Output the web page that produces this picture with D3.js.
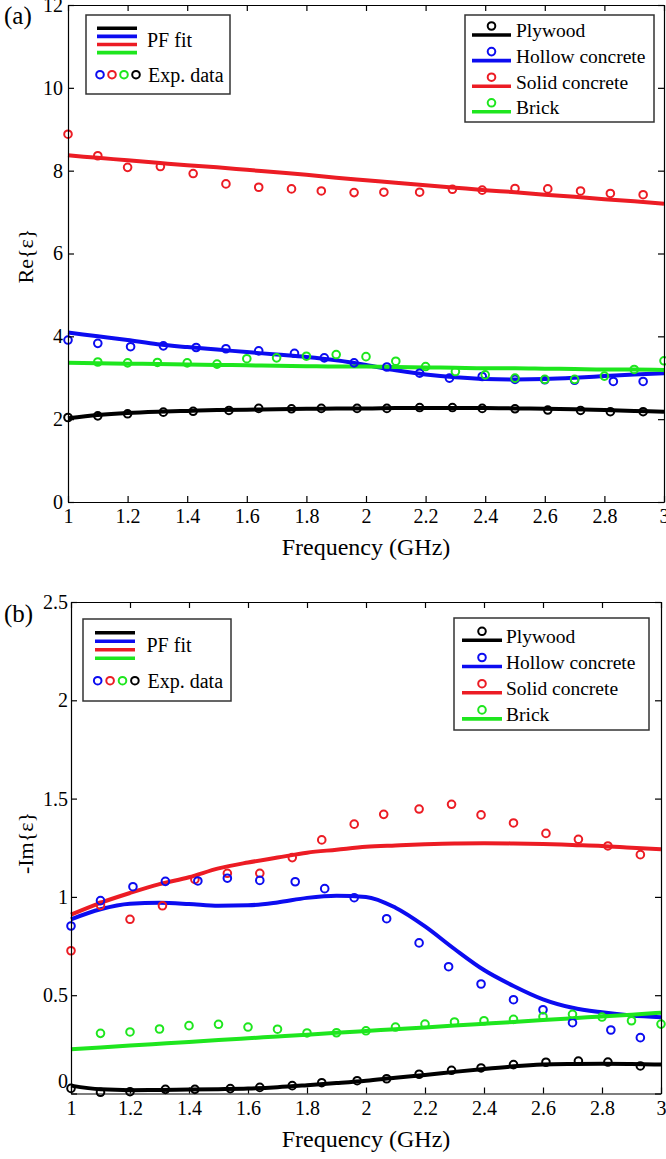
<!DOCTYPE html>
<html>
  <head>
    <meta charset="utf-8" />
    <script src="https://d3js.org/d3.v7.min.js"></script>
    <title>Permittivity of building materials</title>
    <style>
      body { margin: 0; background: #fff; }
      text { font-family: "Liberation Serif", "Times New Roman", serif; fill: #000; }
      .axis path, .axis line { stroke: #000; stroke-width: 1.2px; }
      .axis text { font-family: "Liberation Serif", serif; font-size: 20px; }
      .fit { fill: none; stroke-width: 4px; stroke-linejoin: round; }
      .pt { fill: none; stroke-width: 2px; }
      .legbox { fill: #fff; stroke: #333; stroke-width: 1.5px; }
    </style>
  </head>
  <body>
    <svg id="chart" width="666" height="1159"></svg>
    <script>

      // materials and colours
      var materials = ["Plywood", "Hollow concrete", "Solid concrete", "Brick"];
      var colors = ["#000000", "#0c0cf0", "#ec1c24", "#1ee61e"];

      var xTicks = [1, 1.2, 1.4, 1.6, 1.8, 2, 2.2, 2.4, 2.6, 2.8, 3];
      var reTicks = [0, 2, 4, 6, 8, 10, 12];
      var imTicks = [0, 0.5, 1, 1.5, 2, 2.5];

      // measured frequencies (GHz)
      var freqPly = [1.00, 1.10, 1.20, 1.32, 1.42, 1.54, 1.64, 1.75, 1.85, 1.97, 2.07, 2.18, 2.29, 2.39, 2.50, 2.61, 2.72, 2.82, 2.93];
      var freqHollow = [1.00, 1.10, 1.21, 1.32, 1.43, 1.53, 1.64, 1.76, 1.86, 1.96, 2.07, 2.18, 2.28, 2.39, 2.50, 2.60, 2.70, 2.83, 2.93];
      var freqSolid = [1.00, 1.10, 1.20, 1.31, 1.42, 1.53, 1.64, 1.75, 1.85, 1.96, 2.06, 2.18, 2.29, 2.39, 2.50, 2.61, 2.72, 2.82, 2.93];
      var freqBrick = [1.1, 1.2, 1.3, 1.4, 1.5, 1.6, 1.7, 1.8, 1.9, 2.0, 2.1, 2.2, 2.3, 2.4, 2.5, 2.6, 2.7, 2.8, 2.9, 3.0];

      // Re{eps} experimental data
      var rePly = [2.04, 2.08, 2.13, 2.17, 2.19, 2.21, 2.26, 2.25, 2.26, 2.26, 2.26, 2.28, 2.28, 2.26, 2.25, 2.22, 2.21, 2.18, 2.18];
      var reHollow = [3.91, 3.83, 3.75, 3.77, 3.73, 3.70, 3.65, 3.59, 3.48, 3.36, 3.26, 3.11, 2.99, 3.03, 2.96, 2.95, 2.94, 2.91, 2.91];
      var reSolid = [8.88, 8.36, 8.08, 8.10, 7.93, 7.68, 7.60, 7.56, 7.51, 7.47, 7.48, 7.48, 7.55, 7.53, 7.57, 7.56, 7.51, 7.45, 7.42];
      var reBrick = [3.38, 3.36, 3.37, 3.36, 3.33, 3.46, 3.48, 3.52, 3.56, 3.51, 3.40, 3.27, 3.15, 3.07, 2.99, 2.96, 2.96, 3.04, 3.20, 3.41];

      // -Im{eps} experimental data
      var imPly = [0.026, 0.006, 0.009, 0.021, 0.021, 0.025, 0.031, 0.040, 0.055, 0.065, 0.075, 0.098, 0.118, 0.130, 0.147, 0.159, 0.165, 0.160, 0.140];
      var imHollow = [0.852, 0.981, 1.052, 1.079, 1.081, 1.095, 1.084, 1.077, 1.042, 0.996, 0.889, 0.766, 0.645, 0.557, 0.477, 0.426, 0.360, 0.323, 0.284];
      var imSolid = [0.726, 0.957, 0.886, 0.955, 1.089, 1.120, 1.120, 1.200, 1.290, 1.370, 1.420, 1.447, 1.471, 1.417, 1.376, 1.323, 1.293, 1.259, 1.215];
      var imBrick = [0.306, 0.313, 0.328, 0.345, 0.352, 0.338, 0.327, 0.308, 0.309, 0.319, 0.338, 0.353, 0.364, 0.370, 0.377, 0.391, 0.403, 0.389, 0.370, 0.353];

      // PF fit curves
      var fitFreq = [1.0, 1.1, 1.2, 1.3, 1.4, 1.5, 1.6, 1.7, 1.8, 1.9, 2.0, 2.1, 2.2, 2.3, 2.4, 2.5, 2.6, 2.7, 2.8, 2.9, 3.0];
      var reFitPly = [2.02, 2.10, 2.15, 2.18, 2.20, 2.22, 2.23, 2.24, 2.25, 2.26, 2.26, 2.27, 2.27, 2.27, 2.27, 2.26, 2.25, 2.24, 2.22, 2.20, 2.18];
      var reFitHollow = [4.09, 4.00, 3.91, 3.81, 3.74, 3.68, 3.62, 3.56, 3.50, 3.42, 3.31, 3.18, 3.08, 3.01, 2.97, 2.96, 2.97, 3.00, 3.04, 3.08, 3.11];
      var reFitSolid = [8.37, 8.31, 8.25, 8.19, 8.13, 8.08, 8.02, 7.96, 7.90, 7.83, 7.77, 7.71, 7.65, 7.59, 7.53, 7.48, 7.42, 7.37, 7.31, 7.26, 7.20];
      var reFitBrick = [3.36, 3.35, 3.34, 3.33, 3.32, 3.31, 3.30, 3.29, 3.28, 3.27, 3.27, 3.26, 3.25, 3.24, 3.23, 3.23, 3.22, 3.21, 3.20, 3.20, 3.19];
      var imFitPly = [0.040, 0.021, 0.017, 0.018, 0.020, 0.022, 0.025, 0.032, 0.042, 0.053, 0.065, 0.080, 0.094, 0.110, 0.125, 0.138, 0.147, 0.150, 0.151, 0.150, 0.147];
      var imFitHollow = [0.886, 0.937, 0.965, 0.970, 0.964, 0.955, 0.957, 0.972, 0.995, 1.006, 1.000, 0.945, 0.850, 0.735, 0.628, 0.547, 0.479, 0.436, 0.413, 0.397, 0.388];
      var imFitSolid = [0.910, 0.970, 1.020, 1.065, 1.100, 1.145, 1.175, 1.200, 1.225, 1.240, 1.255, 1.262, 1.268, 1.272, 1.273, 1.272, 1.269, 1.264, 1.259, 1.250, 1.242];
      var imFitBrick = [0.225, 0.234, 0.244, 0.253, 0.262, 0.272, 0.281, 0.290, 0.299, 0.309, 0.318, 0.327, 0.336, 0.346, 0.355, 0.364, 0.374, 0.383, 0.392, 0.401, 0.411];

      var svg = d3.select("#chart");

      function zip(xs, ys) {
        return xs.map(function(x, i) { return [x, ys[i]]; });
      }

      function drawPanel(p) {
        var x = d3.scaleLinear().domain([1, 3]).range([p.left, p.right]);
        var y = d3.scaleLinear().domain(p.yDomain).range([p.bottom, p.top]);
        var g = svg.append("g");

        // curves first, markers on top
        var line = d3.line()
          .x(function(d) { return x(d[0]); })
          .y(function(d) { return y(d[1]); })
          .curve(d3.curveMonotoneX);

        p.fits.forEach(function(f, i) {
          g.append("path")
            .attr("class", "fit")
            .attr("stroke", colors[i])
            .attr("d", line(zip(fitFreq, f)));
        });

        // draw order of markers: solid, hollow, brick, plywood
        [2, 1, 3, 0].forEach(function(i) {
          g.selectAll(null)
            .data(zip(p.freqs[i], p.exp[i]))
            .enter().append("circle")
            .attr("class", "pt")
            .attr("stroke", colors[i])
            .attr("cx", function(d) { return x(d[0]); })
            .attr("cy", function(d) { return y(d[1]); })
            .attr("r", 3.8);
        });

        // box axes with inward ticks
        g.append("g").attr("class", "axis")
          .attr("transform", "translate(0," + p.bottom + ")")
          .call(d3.axisBottom(x).tickValues(xTicks).tickSizeInner(-6).tickSizeOuter(0)
            .tickPadding(7).tickFormat(function(d) { return String(d); }));
        g.append("g").attr("class", "axis")
          .attr("transform", "translate(0," + p.top + ")")
          .call(d3.axisTop(x).tickValues(xTicks).tickSizeInner(-6).tickSizeOuter(0).tickFormat(""));
        var yl = g.append("g").attr("class", "axis")
          .attr("transform", "translate(" + p.left + ",0)")
          .call(d3.axisLeft(y).tickValues(p.yTicks).tickSizeInner(-6).tickSizeOuter(0)
            .tickPadding(p.yPad).tickFormat(function(d) { return String(d); }));
        if (p.zeroShift) {
          yl.selectAll(".tick text").filter(function(d) { return d === 0; })
            .attr("y", -p.zeroShift);
        }
        g.append("g").attr("class", "axis")
          .attr("transform", "translate(" + p.right + ",0)")
          .call(d3.axisRight(y).tickValues(p.yTicks).tickSizeInner(-6).tickSizeOuter(0).tickFormat(""));

        g.append("text")
          .attr("x", (p.left + p.right) / 2)
          .attr("y", p.bottom + 53)
          .attr("text-anchor", "middle")
          .attr("font-size", 24)
          .text("Frequency (GHz)");

        g.append("text")
          .attr("transform", "translate(33," + p.yLabelY + ") rotate(-90)")
          .attr("text-anchor", "middle")
          .attr("font-size", 22)
          .text(p.yLabel);

        g.append("text")
          .attr("x", 4)
          .attr("y", p.tagY)
          .attr("font-size", 25)
          .text(p.tag);

        // left legend: PF fit / Exp. data
        var L = p.legL;
        g.append("rect").attr("class", "legbox")
          .attr("x", L.x0).attr("y", L.y0).attr("width", L.x1 - L.x0).attr("height", L.y1 - L.y0);
        colors.forEach(function(c, i) {
          g.append("line")
            .attr("x1", L.lx0).attr("x2", L.lx1)
            .attr("y1", L.ly + i * L.lstep).attr("y2", L.ly + i * L.lstep)
            .attr("stroke", c).attr("stroke-width", 3.6);
        });
        g.append("text").attr("x", L.tx).attr("y", L.ly + 1.5 * L.lstep)
          .attr("dy", "0.35em").attr("font-size", 20).text("PF fit");
        [1, 2, 3, 0].forEach(function(ci, k) {
          g.append("circle").attr("class", "pt")
            .attr("stroke", colors[ci])
            .attr("cx", L.cx + k * L.cstep).attr("cy", L.cy).attr("r", 3.8);
        });
        g.append("text").attr("x", L.tx + 1).attr("y", L.cy)
          .attr("dy", "0.35em").attr("font-size", 20).text("Exp. data");

        // right legend: materials
        var R = p.legR;
        g.append("rect").attr("class", "legbox")
          .attr("x", R.x0).attr("y", R.y0).attr("width", R.x1 - R.x0).attr("height", R.y1 - R.y0);
        materials.forEach(function(m, i) {
          var yy = R.y + i * R.step;
          g.append("line")
            .attr("x1", R.lx0).attr("x2", R.lx1)
            .attr("y1", yy + 9).attr("y2", yy + 9)
            .attr("stroke", colors[i]).attr("stroke-width", 3.6);
          g.append("circle").attr("class", "pt")
            .attr("stroke", colors[i])
            .attr("cx", (R.lx0 + R.lx1) / 2).attr("cy", yy).attr("r", 3.8);
          g.append("text").attr("x", R.tx).attr("y", yy + 4.5)
            .attr("dy", "0.35em").attr("font-size", 19.5).text(m);
        });
      }

      drawPanel({
        left: 68, right: 664, top: 5, bottom: 502,
        yDomain: [0, 12], yTicks: reTicks, yPad: 5,
        yLabel: "Re{\u03b5}", yLabelY: 256, tag: "(a)", tagY: 24,
        freqs: [freqPly, freqHollow, freqSolid, freqBrick],
        exp: [rePly, reHollow, reSolid, reBrick],
        fits: [reFitPly, reFitHollow, reFitSolid, reFitBrick],
        legL: { x0: 86, x1: 230, y0: 15, y1: 94, lx0: 97, lx1: 137, ly: 28.3, lstep: 8.1,
                tx: 147, cx: 100, cstep: 12, cy: 74.7 },
        legR: { x0: 465, x1: 654, y0: 15, y1: 122, lx0: 472, lx1: 511, tx: 516, y: 26, step: 25.6 }
      });

      drawPanel({
        left: 71, right: 661, top: 602, bottom: 1093.5,
        yDomain: [0, 2.5], yTicks: imTicks, yPad: 3, zeroShift: 12,
        yLabel: "-Im{\u03b5}", yLabelY: 843, tag: "(b)", tagY: 622,
        freqs: [freqPly, freqHollow, freqSolid, freqBrick],
        exp: [imPly, imHollow, imSolid, imBrick],
        fits: [imFitPly, imFitHollow, imFitSolid, imFitBrick],
        legL: { x0: 83, x1: 231, y0: 619, y1: 701, lx0: 95, lx1: 135, ly: 632.7, lstep: 8.5,
                tx: 146.5, cx: 97.7, cstep: 12.4, cy: 680.7 },
        legR: { x0: 454, x1: 649, y0: 618, y1: 730, lx0: 462, lx1: 502, tx: 506, y: 631.3, step: 26.2 }
      });

    </script>
  </body>
</html>
